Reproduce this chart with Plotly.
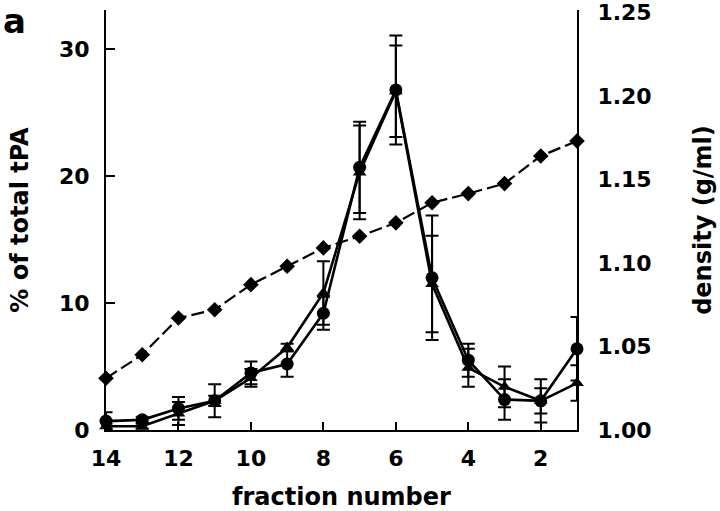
import plotly.graph_objects as go

fractions = [14, 13, 12, 11, 10, 9, 8, 7, 6, 5, 4, 3, 2, 1]
density = [1.031, 1.045, 1.067, 1.072, 1.087, 1.098, 1.109, 1.116, 1.124, 1.136, 1.1415, 1.1475, 1.164, 1.173]
circle_pct = [0.7, 0.8, 1.7, 2.3, 4.5, 5.2, 9.2, 20.7, 26.8, 12.0, 5.5, 2.4, 2.3, 6.4]
circle_err = [0.7, 0.2, 0.9, 1.3, 0.9, 1.0, 1.3, 3.6, 4.3, 4.9, 1.3, 1.6, 1.7, 2.5]
tri_pct = [0.3, 0.3, 1.3, 2.3, 4.1, 6.5, 10.8, 20.3, 26.7, 11.5, 4.9, 3.4, 2.3, 3.7]
tri_err = [0.2, 0.2, 0.9, 0.4, 0.7, 0.3, 2.5, 3.7, 3.6, 3.8, 1.5, 1.6, 1.0, 1.4]

x_ticks = [14, 12, 10, 8, 6, 4, 2]
left_ticks = [0, 10, 20, 30]
right_ticks = [1.00, 1.05, 1.10, 1.15, 1.20, 1.25]

FONT = "DejaVu Sans"
TICK = dict(family=FONT, size=22, weight="bold", color="black")
TITLE = dict(family=FONT, size=24, weight="bold", color="black")
fig = go.Figure()

fig.add_trace(go.Scatter(
    x=fractions, y=density, yaxis="y2", mode="lines+markers",
    line=dict(color="black", width=2.2, dash="13px,5px"),
    marker=dict(symbol="diamond", size=12, color="black"),
    cliponaxis=False, showlegend=False))

fig.add_trace(go.Scatter(
    x=fractions, y=tri_pct, mode="lines+markers",
    line=dict(color="black", width=2.6),
    marker=dict(symbol="triangle-up", size=12, color="black"),
    error_y=dict(type="data", array=tri_err, color="black", thickness=2, width=6.5),
    cliponaxis=False, showlegend=False))

fig.add_trace(go.Scatter(
    x=fractions, y=circle_pct, mode="lines+markers",
    line=dict(color="black", width=2.6),
    marker=dict(symbol="circle", size=13, color="black"),
    error_y=dict(type="data", array=circle_err, color="black", thickness=2, width=6.5),
    cliponaxis=False, showlegend=False))

fig.update_layout(
    width=720, height=511,
    margin=dict(l=106, r=143, t=10, b=81, autoexpand=False),
    plot_bgcolor="white", paper_bgcolor="white",
    font=dict(family=FONT, size=21, color="black", weight="bold"),
    xaxis=dict(
        range=[14, 1], tickvals=x_ticks, ticktext=[str(v) for v in x_ticks],
        showline=True, linecolor="black", linewidth=2,
        ticks="inside", ticklen=8, tickwidth=1.5, tickcolor="black",
        showgrid=False, zeroline=False, automargin=False,
        tickfont=TICK, ticklabelstandoff=8,
        title=dict(text="fraction number", standoff=19, font=TITLE),
    ),
    yaxis=dict(
        range=[0, 33.1], tickvals=left_ticks,
        showline=True, linecolor="black", linewidth=2,
        ticks="inside", ticklen=9, tickwidth=1.5, tickcolor="black",
        showgrid=False, zeroline=False, automargin=False,
        tickfont=TICK, ticklabelstandoff=10,
        title=dict(text="% of total tPA", standoff=24, font=TITLE),
    ),
    yaxis2=dict(
        range=[1.0, 1.2514], tickvals=right_ticks, tickformat=".2f",
        overlaying="y", side="right",
        showline=True, linecolor="black", linewidth=2,
        ticks="", showgrid=False, zeroline=False, automargin=False,
        tickfont=TICK, ticklabelstandoff=14, ticklabeloverflow="allow",
        title=dict(text="density (g/ml)", standoff=44, font=TITLE),
    ),
    annotations=[dict(text="a", xref="paper", yref="paper", x=-0.222, y=1.027,
                      xanchor="left", yanchor="top", showarrow=False,
                      font=dict(family=FONT, size=34, weight="bold"))],
)

fig.write_html("out.html", config={"displayModeBar": False},
               post_script="document.body.style.margin='0';")
